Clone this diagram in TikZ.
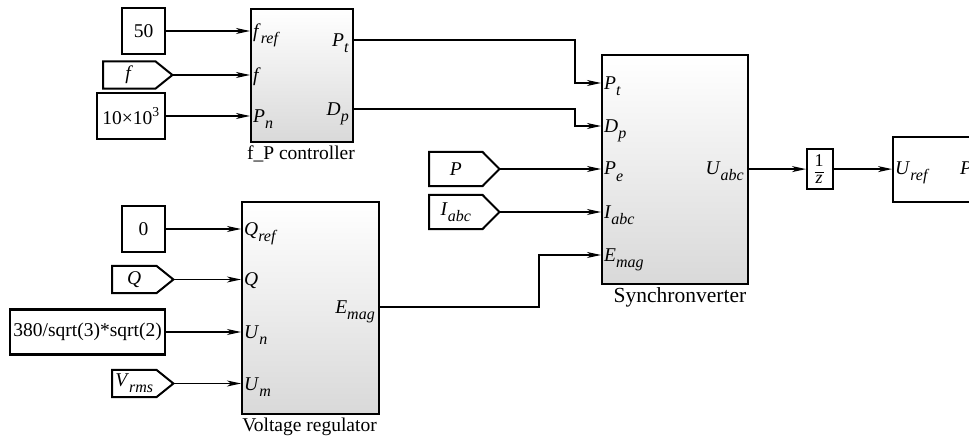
\documentclass[tikz,border=0pt]{standalone}
\usepackage{fontspec}
\setmainfont{Liberation Serif}
\usetikzlibrary{arrows.meta}
\newcommand\isub[2]{\textit{#1}\raisebox{-0.32em}{\fontsize{16}{16}\selectfont\textit{#2}}}
\newcommand\gototag[6]{% name, x left, y center, rect width, height, text
  \node[inner sep=0, minimum width=#4, minimum height=#5, anchor=west] (#1) at (#2,#3) {#6};
  \draw[tagline] (#1.north west) -- (#1.north east) -- ([xshift=17pt]#1.east) coordinate (#1-tip)
     -- (#1.south east) -- (#1.south west) -- cycle;}
\begin{document}
\begin{tikzpicture}[x=1pt,y=-1pt,
  font=\fontsize{19.5}{23}\selectfont,
  blk/.style={draw, line width=2.4pt, top color=white, bottom color=black!15, inner sep=0, anchor=north west},
  constblk/.style={draw, line width=2.2pt, fill=white, inner sep=0, anchor=west},
  tagline/.style={line width=2pt, line join=miter},
  arr/.style={line width=1.2pt, -{Stealth[length=14pt,width=6pt,inset=4pt]}},
  lbl/.style={inner sep=0, anchor=base west},
  rlbl/.style={inner sep=0, anchor=base east},
  caption/.style={inner sep=0}]
\useasboundingbox (0,0) rectangle (969,438);
\clip (0,0) rectangle (969,438);

% main blocks
\node[blk, minimum width=102, minimum height=133] (fp) at (250,8) {};
\node[blk, minimum width=137, minimum height=212] (vr) at (241,201) {};
\node[blk, minimum width=146, minimum height=229] (sv) at (601,54) {};
\node[draw, line width=2.2pt, fill=white, inner sep=0, anchor=north west, minimum width=26, minimum height=40] (uz) at (806,148) {};
\node[inner sep=0, font=\fontsize{18}{18}\selectfont] (uznum) at (819,161) {1};
\draw[line width=0.9pt] (814.5,172) -- (823.5,172);
\node[inner sep=0, font=\fontsize{18}{18}\selectfont] (uzden) at (819,179.5) {\textit{z}};
\node[draw, line width=2.4pt, fill=white, inner sep=0, anchor=north west, minimum width=120, minimum height=65] (last) at (892,136) {};

% captions
\node[caption] (capfp) at (301,154) {f\_P controller};
\node[caption] (capvr) at (309.5,427) {Voltage regulator};
\node[caption, font=\fontsize{21.5}{24}\selectfont] (capsv) at (680,297) {Synchronverter};

% sources
\node[constblk, minimum width=43, minimum height=46] (c50) at (121,31) {50};
\gototag{ftag}{103}{75}{52}{27}{\textit{f}}
\node[constblk, minimum width=68, minimum height=46] (c10) at (96,116) {10×10\textsuperscript{3}};
\node[constblk, minimum width=43, minimum height=46] (c0) at (121,229) {0};
\gototag{qtag}{112}{279.5}{44}{27}{\textit{Q}}
\node[constblk, minimum width=155, minimum height=45] (c380) at (9,332) {380/sqrt(3)*sqrt(2)};
\gototag{vtag}{112}{383.5}{44}{27}{\isub{V}{rms}}
\gototag{ptag}{429}{169}{53}{34}{\textit{P}}
\gototag{itag}{429}{212}{53}{34}{\isub{I}{abc}}

% input wires
\draw[arr] (c50.east) -- (c50.east -| fp.west);
\draw[arr] (ftag-tip) -- (ftag-tip -| fp.west);
\draw[arr] (c10.east) -- (c10.east -| fp.west);
\draw[arr] (c0.east) -- (c0.east -| vr.west);
\draw[arr] (qtag-tip) -- (qtag-tip -| vr.west);
\draw[arr] (c380.east) -- (c380.east -| vr.west);
\draw[arr] (vtag-tip) -- (vtag-tip -| vr.west);
\draw[arr] (ptag-tip) -- (ptag-tip -| sv.west);
\draw[arr] (itag-tip) -- (itag-tip -| sv.west);

% inter-block wires
\draw[arr] (fp.east |- 0,40) -- (575,40) |- (sv.west |- 0,83);
\draw[arr] (fp.east |- 0,109) -- (575,109) |- (sv.west |- 0,126);
\draw[arr] (vr.east |- 0,307) -- (539,307) |- (sv.west |- 0,255);
\draw[arr] (sv.east |- uz.west) -- (uz.west);
\draw[arr] (uz.east) -- (uz.east -| last.west);

% port labels f_P controller
\node[lbl] (fpl1) at (253,37.5) {\isub{f}{ref}};
\node[lbl] (fpl2) at (253,81.5) {\textit{f}};
\node[lbl] (fpl3) at (253,122.5) {\isub{P}{n}};
\node[rlbl] (fpl4) at (349,46.5) {\isub{P}{t}};
\node[rlbl] (fpl5) at (349,115.5) {\isub{D}{p}};

% port labels voltage regulator
\node[lbl] (vrl1) at (244,235.5) {\isub{Q}{ref}};
\node[lbl] (vrl2) at (244,286) {\textit{Q}};
\node[lbl] (vrl3) at (244,338.5) {\isub{U}{n}};
\node[lbl] (vrl4) at (244,390) {\isub{U}{m}};
\node[rlbl] (vrl5) at (375,313.5) {\isub{E}{mag}};

% port labels synchronverter
\node[lbl] (svl1) at (604,89.5) {\isub{P}{t}};
\node[lbl] (svl2) at (604,132.5) {\isub{D}{p}};
\node[lbl] (svl3) at (604,175) {\isub{P}{e}};
\node[lbl] (svl4) at (604,218.5) {\isub{I}{abc}};
\node[lbl] (svl5) at (604,261.5) {\isub{E}{mag}};
\node[rlbl] (svl6) at (744,174.5) {\isub{U}{abc}};

% last block labels
\node[lbl] (ll1) at (895,174.5) {\isub{U}{ref}};
\node[lbl] (ll2) at (960,174.5) {\textit{P}};
\end{tikzpicture}
\end{document}
